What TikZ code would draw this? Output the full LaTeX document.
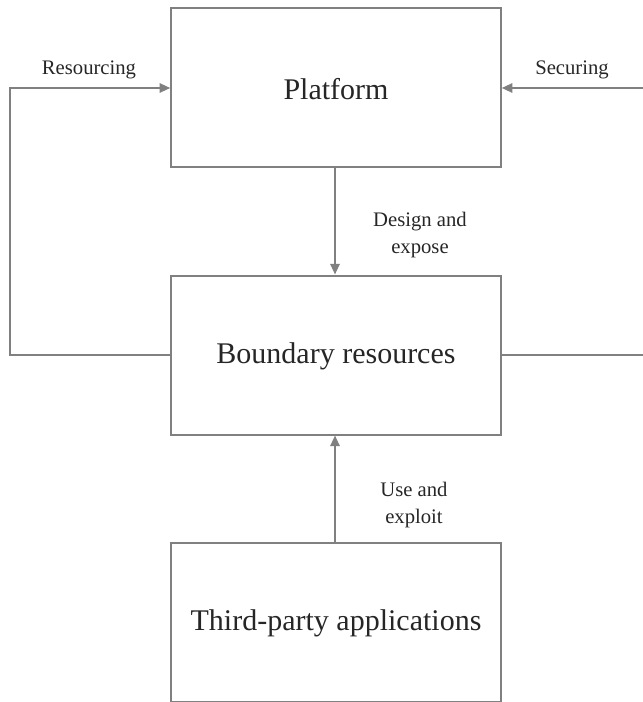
\documentclass[tikz,border=0pt]{standalone}
\usepackage{fontspec}
\setmainfont{Liberation Serif}
\usetikzlibrary{arrows.meta}
\begin{document}
\begin{tikzpicture}[x=0.75pt,y=-0.75pt,
  ln/.style={draw=black!50,line width=1.5pt},
  arr/.style={ln,-{Triangle[length=8pt,width=7pt]}},
  bigtxt/.style={font=\fontsize{22.5}{27}\selectfont,text=black!85},
  smalltxt/.style={font=\fontsize{15.5}{20}\selectfont,text=black!85,align=center}]
\useasboundingbox (0,0) rectangle (642,702);
\node[ln,minimum width=329.5*0.75pt,minimum height=159*0.75pt,inner sep=0pt] (plat) at (336,87.5) {};
\node[ln,minimum width=329.5*0.75pt,minimum height=159*0.75pt,inner sep=0pt] (bound) at (336,355) {};
\node[ln,minimum width=329.5*0.75pt,minimum height=159*0.75pt,inner sep=0pt] (third) at (336,622.5) {};
\node[bigtxt] (tplat) at (336,89) {Platform};
\node[bigtxt] (tbound) at (336,356) {Boundary resources};
\node[bigtxt] (tthird) at (336,623) {Third-party applications};
\coordinate (lb) at (9.5,355);
\coordinate (lt) at (9.5,88);
\coordinate (rb) at (643,355);
\coordinate (rt) at (643,88);
\draw[arr] (bound.west) -- (lb) -- (lt) -- (lt -| plat.west);
\draw[ln] (bound.east) -- (rb);
\draw[arr] (rt) -- (rt -| plat.east);
\draw[arr] (plat.south) ++(-1,0) coordinate (ps) -- (ps |- bound.north);
\draw[arr] (third.north) ++(-1,0) coordinate (ts) -- (ts |- bound.south);
\node[smalltxt] (lres) at (89,70) {Resourcing};
\node[smalltxt] (lsec) at (572,70) {Securing};
\node[smalltxt] (ldes) at (420,235) {Design and\\expose};
\node[smalltxt] (luse) at (414,505) {Use and\\exploit};
\end{tikzpicture}
\end{document}
